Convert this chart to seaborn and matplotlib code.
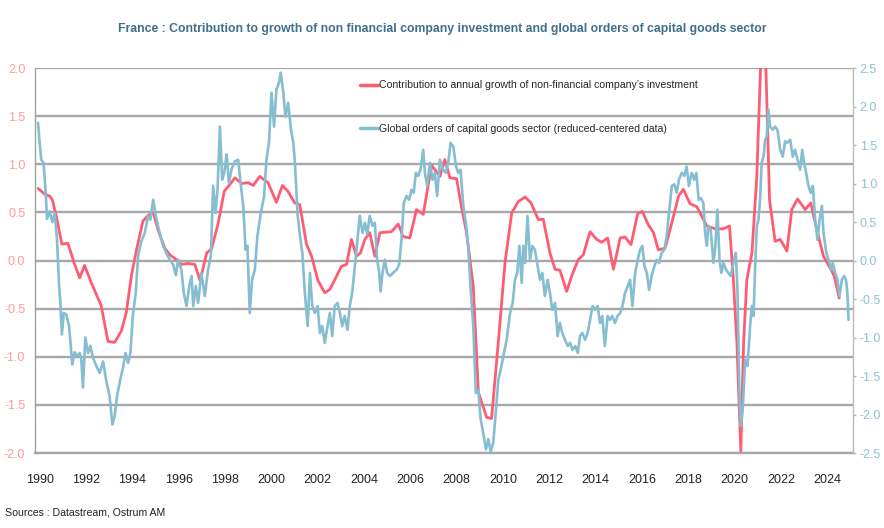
import matplotlib.pyplot as plt
import seaborn as sns
from matplotlib.lines import Line2D

# contribution to annual growth of non-financial company investment (left axis)
red_years = [1989.93, 1990.22, 1990.43, 1990.55, 1990.72, 1990.96, 1991.22, 1991.51, 1991.73, 1991.94,
             1992.23, 1992.66, 1992.95, 1993.24, 1993.53, 1993.74, 1993.96, 1994.18, 1994.46, 1994.68,
             1994.90, 1995.11, 1995.40, 1995.62, 1995.90, 1996.12, 1996.41, 1996.70, 1996.93, 1997.21,
             1997.42, 1997.71, 1997.97, 1998.21, 1998.43, 1998.72, 1999.00, 1999.22, 1999.50, 1999.86,
             2000.22, 2000.48, 2000.72, 2001.01, 2001.23, 2001.52, 2001.74, 2002.02, 2002.31, 2002.53,
             2002.74, 2003.03, 2003.25, 2003.46, 2003.68, 2003.85, 2004.04, 2004.25, 2004.47, 2004.69,
             2005.19, 2005.48, 2005.69, 2005.98, 2006.27, 2006.56, 2006.92, 2007.28, 2007.49, 2007.71,
             2008.00, 2008.21, 2008.43, 2008.72, 2008.94, 2009.30, 2009.51, 2009.80, 2010.09, 2010.38,
             2010.67, 2010.96, 2011.21, 2011.53, 2011.74, 2012.03, 2012.25, 2012.46, 2012.75, 2012.97,
             2013.25, 2013.47, 2013.76, 2014.05, 2014.26, 2014.52, 2014.77, 2015.06, 2015.27, 2015.53,
             2015.82, 2016.02, 2016.28, 2016.50, 2016.71, 2017.00, 2017.29, 2017.58, 2017.79, 2018.08,
             2018.37, 2018.80, 2019.16, 2019.52, 2019.78, 2019.95, 2020.10, 2020.27, 2020.39, 2020.53,
             2020.75, 2020.96, 2021.25, 2021.51, 2021.75, 2021.97, 2022.26, 2022.47, 2022.72, 2023.05,
             2023.29, 2023.55, 2023.84, 2024.13, 2024.30, 2024.52]
red_values = [0.75, 0.69, 0.67, 0.63, 0.46, 0.17, 0.18, -0.04, -0.18, -0.05,
              -0.23, -0.47, -0.84, -0.85, -0.73, -0.54, -0.16, 0.11, 0.41, 0.47,
              0.50, 0.32, 0.13, 0.06, 0.01, -0.04, -0.03, -0.04, -0.21, 0.08,
              0.12, 0.39, 0.72, 0.79, 0.86, 0.80, 0.81, 0.78, 0.875, 0.81,
              0.605, 0.78, 0.72, 0.60, 0.58, 0.17, 0.045, -0.21, -0.335, -0.30,
              -0.20, -0.06, -0.04, 0.22, 0.045, 0.08, 0.22, 0.29, 0.045, 0.29,
              0.30, 0.38, 0.25, 0.235, 0.53, 0.48, 0.99, 0.875, 1.05, 0.86,
              0.85, 0.56, 0.29, -0.27, -1.37, -1.63, -1.64, -0.85, -0.02, 0.495,
              0.615, 0.66, 0.60, 0.425, 0.43, 0.08, -0.09, -0.10, -0.32, -0.16,
              0.01, 0.06, 0.30, 0.22, 0.19, 0.235, -0.09, 0.235, 0.245, 0.166,
              0.49, 0.51, 0.37, 0.29, 0.11, 0.13, 0.39, 0.67, 0.74, 0.59,
              0.56, 0.36, 0.33, 0.33, 0.36, -0.20, -0.85, -1.98, -0.85, -0.20,
              0.08, 0.875, 2.9, 0.63, 0.20, 0.22, 0.10, 0.53, 0.64, 0.53,
              0.60, 0.32, 0.045, -0.08, -0.16, -0.39]

# global orders of capital goods sector, reduced-centered (right axis)
blue_years = [1989.93, 1990.00, 1990.07, 1990.17, 1990.26, 1990.32, 1990.43, 1990.55, 1990.65, 1990.75,
              1990.84, 1990.89, 1990.96, 1991.04, 1991.15, 1991.27, 1991.41, 1991.51, 1991.61, 1991.73,
              1991.80, 1991.87, 1991.97, 1992.09, 1992.19, 1992.30, 1992.45, 1992.59, 1992.74, 1992.88,
              1993.02, 1993.14, 1993.24, 1993.34, 1993.48, 1993.60, 1993.71, 1993.82, 1993.92, 1994.02,
              1994.15, 1994.25, 1994.39, 1994.54, 1994.68, 1994.78, 1994.90, 1995.01, 1995.18, 1995.33,
              1995.47, 1995.62, 1995.76, 1995.88, 1995.98, 1996.12, 1996.22, 1996.34, 1996.46, 1996.56,
              1996.63, 1996.74, 1996.84, 1996.98, 1997.13, 1997.27, 1997.39, 1997.49, 1997.59, 1997.68,
              1997.78, 1997.88, 1997.97, 1998.07, 1998.17, 1998.28, 1998.43, 1998.57, 1998.69, 1998.79,
              1998.89, 1998.97, 1999.07, 1999.17, 1999.29, 1999.40, 1999.55, 1999.69, 1999.79, 1999.90,
              2000.01, 2000.12, 2000.22, 2000.33, 2000.41, 2000.52, 2000.61, 2000.73, 2000.85, 2000.95,
              2001.02, 2001.14, 2001.24, 2001.34, 2001.45, 2001.57, 2001.67, 2001.77, 2001.88, 2002.00,
              2002.10, 2002.20, 2002.31, 2002.43, 2002.53, 2002.63, 2002.74, 2002.86, 2002.96, 2003.06,
              2003.17, 2003.29, 2003.39, 2003.49, 2003.61, 2003.72, 2003.82, 2003.94, 2004.04, 2004.14,
              2004.25, 2004.37, 2004.47, 2004.57, 2004.66, 2004.72, 2004.80, 2004.90, 2005.00, 2005.12,
              2005.26, 2005.41, 2005.52, 2005.62, 2005.72, 2005.84, 2005.95, 2006.05, 2006.15, 2006.24,
              2006.34, 2006.44, 2006.56, 2006.63, 2006.73, 2006.85, 2006.96, 2007.06, 2007.16, 2007.28,
              2007.42, 2007.53, 2007.64, 2007.74, 2007.86, 2007.97, 2008.07, 2008.17, 2008.29, 2008.40,
              2008.50, 2008.60, 2008.72, 2008.83, 2008.94, 2009.04, 2009.15, 2009.27, 2009.37, 2009.47,
              2009.58, 2009.70, 2009.80, 2009.90, 2010.02, 2010.16, 2010.31, 2010.42, 2010.52, 2010.62,
              2010.71, 2010.81, 2010.88, 2010.96, 2011.06, 2011.17, 2011.27, 2011.38, 2011.50, 2011.60,
              2011.70, 2011.81, 2011.93, 2012.03, 2012.13, 2012.25, 2012.36, 2012.46, 2012.56, 2012.68,
              2012.80, 2012.90, 2013.00, 2013.12, 2013.23, 2013.33, 2013.43, 2013.55, 2013.66, 2013.76,
              2013.87, 2013.98, 2014.09, 2014.19, 2014.29, 2014.40, 2014.52, 2014.62, 2014.72, 2014.84,
              2014.95, 2015.06, 2015.16, 2015.27, 2015.39, 2015.49, 2015.59, 2015.71, 2015.82, 2015.92,
              2016.02, 2016.11, 2016.21, 2016.31, 2016.42, 2016.54, 2016.64, 2016.74, 2016.85, 2016.97,
              2017.07, 2017.17, 2017.29, 2017.40, 2017.50, 2017.60, 2017.72, 2017.83, 2017.93, 2018.03,
              2018.15, 2018.26, 2018.35, 2018.45, 2018.55, 2018.65, 2018.73, 2018.80, 2018.87, 2018.97,
              2019.09, 2019.17, 2019.26, 2019.35, 2019.43, 2019.52, 2019.63, 2019.73, 2019.84, 2019.95,
              2020.05, 2020.12, 2020.21, 2020.27, 2020.35, 2020.46, 2020.56, 2020.67, 2020.75, 2020.82,
              2020.89, 2020.96, 2021.03, 2021.10, 2021.17, 2021.25, 2021.32, 2021.39, 2021.46, 2021.53,
              2021.65, 2021.75, 2021.85, 2021.97, 2022.08, 2022.18, 2022.28, 2022.40, 2022.51, 2022.61,
              2022.72, 2022.83, 2022.92, 2023.00, 2023.09, 2023.19, 2023.29, 2023.38, 2023.48, 2023.58,
              2023.67, 2023.77, 2023.84, 2023.96, 2024.06, 2024.16, 2024.24, 2024.34, 2024.44, 2024.53,
              2024.63, 2024.73, 2024.81, 2024.87, 2024.92]
blue_values = [1.79, 1.53, 1.31, 1.27, 0.88, 0.54, 0.64, 0.50, 0.62, 0.27,
               -0.33, -0.51, -0.96, -0.68, -0.70, -0.85, -1.35, -1.19, -1.24, -1.20,
               -1.29, -1.65, -1.00, -1.20, -1.11, -1.26, -1.37, -1.46, -1.31, -1.57,
               -1.76, -2.13, -2.02, -1.76, -1.55, -1.39, -1.20, -1.33, -1.20, -0.72,
               -0.42, 0.06, 0.25, 0.36, 0.58, 0.53, 0.79, 0.58, 0.36, 0.19,
               0.10, 0.01, -0.05, -0.19, 0.01, -0.12, -0.42, -0.59, -0.33, -0.20,
               -0.59, -0.33, -0.55, -0.16, -0.46, -0.12, 0.06, 0.97, 0.62, 0.92,
               1.74, 1.05, 1.14, 1.38, 1.01, 1.18, 1.29, 1.31, 0.97, 0.71,
               0.14, 0.19, -0.68, -0.25, -0.12, 0.32, 0.62, 0.84, 1.31, 1.53,
               2.18, 1.74, 2.22, 2.31, 2.44, 2.18, 1.87, 2.05, 1.70, 1.53,
               1.27, 0.58, 0.32, 0.10, -0.42, -0.85, -0.16, -0.59, -0.68, -0.59,
               -0.94, -0.85, -1.07, -0.85, -0.68, -0.98, -0.59, -0.55, -0.68, -0.85,
               -0.72, -0.90, -0.59, -0.42, -0.07, 0.27, 0.58, 0.36, 0.49, 0.34,
               0.58, 0.45, 0.49, 0.01, -0.16, -0.40, -0.16, 0.01, -0.16, -0.20,
               -0.16, -0.12, -0.05, 0.27, 0.75, 0.84, 0.79, 0.92, 0.88, 1.14,
               1.10, 1.18, 1.44, 1.14, 0.97, 1.27, 1.05, 1.14, 0.84, 1.31,
               1.18, 1.14, 1.27, 1.53, 1.48, 1.23, 1.14, 1.18, 0.71, 0.49,
               0.19, -0.33, -0.85, -1.72, -1.68, -2.06, -2.24, -2.45, -2.32, -2.48,
               -2.37, -1.94, -1.55, -1.42, -1.24, -1.03, -0.68, -0.55, -0.25, -0.16,
               0.19, -0.29, 0.19, -0.03, 0.58, 0.01, 0.19, 0.14, -0.07, -0.25,
               -0.16, -0.46, -0.25, -0.42, -0.64, -0.55, -0.98, -0.81, -0.94, -1.03,
               -1.11, -1.07, -1.16, -1.11, -1.20, -0.98, -0.94, -1.03, -0.94, -0.77,
               -0.59, -0.64, -0.59, -0.81, -0.72, -1.11, -0.72, -0.77, -0.72, -0.81,
               -0.72, -0.68, -0.59, -0.42, -0.33, -0.25, -0.59, -0.16, 0.01, 0.14,
               0.19, -0.07, -0.16, -0.38, -0.20, -0.07, 0.01, -0.03, 0.10, 0.14,
               0.32, 0.62, 0.97, 0.99, 0.88, 1.05, 1.14, 1.10, 1.22, 0.97,
               1.14, 1.05, 1.14, 0.79, 0.81, 0.75, 0.36, 0.19, 0.45, 0.40,
               -0.03, 0.19, 0.66, 0.01, -0.16, -0.03, -0.12, -0.16, -0.20, -0.03,
               0.10, -0.33, -1.72, -2.15, -1.94, -1.29, -1.37, -0.85, -0.59, -0.72,
               -0.07, 0.45, 0.53, 0.79, 1.27, 1.35, 1.57, 1.61, 1.96, 1.74,
               1.70, 1.74, 1.70, 1.44, 1.35, 1.55, 1.53, 1.57, 1.35, 1.44,
               1.31, 1.18, 1.44, 1.27, 1.14, 0.97, 0.88, 0.97, 0.53, 0.27,
               0.53, 0.71, 0.36, 0.10, 0.01, -0.12, -0.03, -0.16, -0.25, -0.46,
               -0.25, -0.20, -0.25, -0.42, -0.77]

year_ticks = list(range(1990, 2025, 2))
left_ticks = [-2.0, -1.5, -1.0, -0.5, 0.0, 0.5, 1.0, 1.5, 2.0]
right_ticks = [-2.5, -2.0, -1.5, -1.0, -0.5, 0.0, 0.5, 1.0, 1.5, 2.0, 2.5]

red_label = "Contribution to annual growth of non-financial company\u2019s investment"
blue_label = "Global orders of capital goods sector (reduced-centered data)"

RED = '#FF5C73'
BLUE = '#85BDD1'
GRID = '#A8A8A8'

sns.set_style("white")
plt.rcParams['font.family'] = ['Liberation Sans Narrow', 'Liberation Sans', 'DejaVu Sans']

fig = plt.figure(figsize=(8.84, 5.28), dpi=100)
ax = fig.add_axes([0.0396, 0.142, 0.925, 0.729])
ax2 = ax.twinx()

sns.lineplot(x=red_years, y=red_values, ax=ax, color=RED, linewidth=2.0)
sns.lineplot(x=blue_years, y=blue_values, ax=ax2, color=BLUE, linewidth=1.9)

ax.set_xlim(1989.8, 2025.1)
ax.set_ylim(-2.0, 2.0)
ax2.set_ylim(-2.5, 2.5)

ax.set_xticks(year_ticks)
ax.set_xticklabels([str(y) for y in year_ticks], fontsize=9, color='#222222')
ax.set_yticks(left_ticks)
ax.set_yticklabels([f"{v:.1f}" for v in left_ticks], fontsize=9, color='#FF9B9B')
ax2.set_yticks(right_ticks)
ax2.set_yticklabels([f"{v:.1f}" for v in right_ticks], fontsize=9, color='#8CC2D6')

ax.tick_params(axis='x', length=0, pad=15)
ax.tick_params(axis='y', length=0, pad=7)
ax2.tick_params(axis='y', length=2.5, width=1, color='#BBBBBB', pad=2.5, direction='out')

ax.yaxis.grid(True, color=GRID, linewidth=1.7)
ax.xaxis.grid(False)
ax.set_axisbelow(True)

for a in (ax, ax2):
    a.spines['top'].set_visible(False)
    a.set_xlabel('')
    a.set_ylabel('')
ax.spines['left'].set_color('#A0A0A0')
ax.spines['left'].set_linewidth(1.0)
ax.spines['bottom'].set_color(GRID)
ax.spines['bottom'].set_linewidth(1.7)
ax.spines['right'].set_visible(False)
ax2.spines['left'].set_visible(False)
ax2.spines['bottom'].set_visible(False)
ax2.spines['right'].set_color('#BBBBBB')
ax2.spines['right'].set_linewidth(1.0)

handles = [Line2D([], [], color=RED, linewidth=2.5), Line2D([], [], color=BLUE, linewidth=2.5)]
ax2.legend(handles, [red_label, blue_label], loc='upper left',
           bbox_to_anchor=(0.397, 0.866), bbox_transform=fig.transFigure,
           frameon=False, fontsize=7.6, handlelength=1.7, handletextpad=0.1,
           labelspacing=3.2)

fig.text(0.5, 0.945, "France : Contribution to growth of non financial company investment "
         "and global orders of capital goods sector",
         ha='center', va='center', fontsize=8.8, fontweight='bold', color='#3E6F8C')
fig.text(0.006, 0.030, "Sources : Datastream, Ostrum AM", ha='left', va='center',
         fontsize=7.6, color='#222222')

fig.savefig('out.png', dpi=100)
